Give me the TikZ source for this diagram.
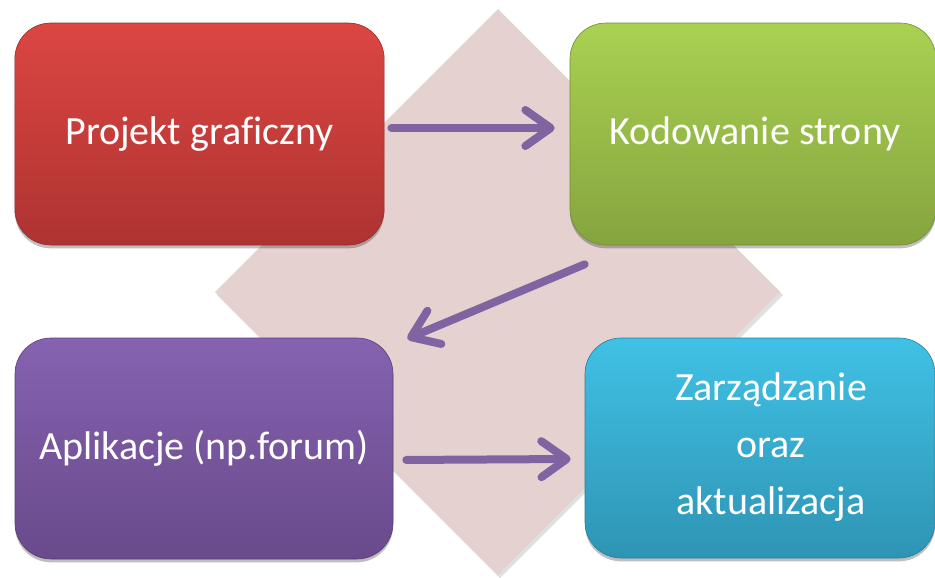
\documentclass[tikz,border=0pt]{standalone}
\usepackage{fontspec}
\setmainfont{Carlito}[Ligatures=CommonOff]
\usetikzlibrary{arrows.meta,shadows}
\definecolor{diam}{HTML}{E6D1D1}
\definecolor{arrc}{HTML}{8064A2}
\definecolor{redT}{HTML}{DC4643}
\definecolor{redB}{HTML}{AE3331}
\definecolor{redD}{HTML}{962C2A}
\definecolor{grnT}{HTML}{A9D151}
\definecolor{grnB}{HTML}{86A43F}
\definecolor{grnD}{HTML}{718B35}
\definecolor{purT}{HTML}{8662B0}
\definecolor{purB}{HTML}{694A8B}
\definecolor{purD}{HTML}{5A3F78}
\definecolor{bluT}{HTML}{3FC1E5}
\definecolor{bluB}{HTML}{2F94B4}
\definecolor{bluD}{HTML}{287F9B}
\tikzset{
  box/.style={rectangle, rounded corners=27pt, line width=0.45pt,
    text=white, font=\fontsize{30pt}{42.75pt}\selectfont, align=center,
    drop shadow={shadow xshift=0pt, shadow yshift=-2.5pt, opacity=0.25, fill=black},
    inner sep=0pt},
  redbox/.style={box, top color=redT, bottom color=redB, draw=redD},
  grnbox/.style={box, top color=grnT, bottom color=grnB, draw=grnD},
  purbox/.style={box, top color=purT, bottom color=purB, draw=purD},
  blubox/.style={box, top color=bluT, bottom color=bluB, draw=bluD},
  flowarrow/.style={draw=arrc, line width=6pt, line cap=round, line join=round,
    -{Straight Barb[length=19pt, width=27pt, line cap=round, line join=round]}},
  txt/.style={text=white, font=\fontsize{30pt}{42.75pt}\selectfont, align=center, inner sep=0pt}
}
\begin{document}
\begin{tikzpicture}[x=0.75pt, y=-0.75pt]
\useasboundingbox (0,0) rectangle (935,578);
\fill[white] (0,0) rectangle (935,578);
% background diamond
\fill[black, opacity=0.12] (500,12) -- (783,295) -- (500,578) -- (217,295) -- cycle;
\fill[diam] (498,9) -- (780,292) -- (498,575) -- (215,292) -- cycle;
% boxes
\node[redbox, minimum width=277pt, minimum height=166.5pt] (red) at (199.5,134) {Projekt graficzny};
\node[grnbox, minimum width=274.5pt, minimum height=166.5pt] (green) at (753,134) {};
\node[txt] (greentxt) at (755,134) {Kodowanie strony};
\node[purbox, minimum width=283.5pt, minimum height=165.75pt] (purple) at (204,448.5) {Aplikacje (np.forum)};
\node[blubox, minimum width=262.5pt, minimum height=165pt] (blue) at (760,448) {};
\node[txt] (bluetxt) at (771,447) {Zarządzanie\\oraz\\aktualizacja};
% arrows
\draw[flowarrow] ([xshift=5.25pt,yshift=4.5pt]red.east) -- ([xshift=-11.25pt,yshift=4.5pt]green.west);
\draw[flowarrow] ([xshift=11.25pt,yshift=-14.25pt]green.south west) -- ([xshift=10.5pt,yshift=-0.75pt]purple.north east);
\draw[flowarrow] ([xshift=9.75pt,yshift=-8.6pt]purple.east) -- ([xshift=-10.5pt,yshift=-8.25pt]blue.west);
\end{tikzpicture}
\end{document}
